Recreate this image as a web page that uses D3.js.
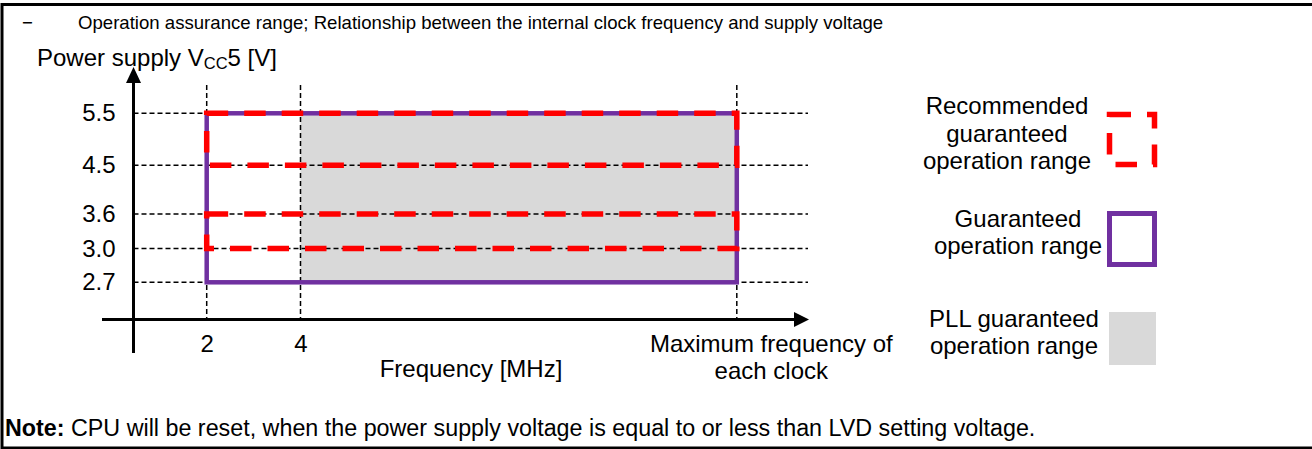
<!DOCTYPE html>
<html>
<head>
<meta charset="utf-8">
<script src="https://cdn.jsdelivr.net/npm/d3@7"></script>
<style>
  body { margin: 0; background: #fff; }
  svg { display: block; font-family: "Liberation Sans", Arial, sans-serif; }
</style>
</head>
<body>
<svg id="chart" width="1312" height="449"></svg>
<script>
// supply voltage ticks [V] (axis is not to scale in the original)
const voltTicks = [2.7, 3.0, 3.6, 4.5, 5.5];
// frequency ticks, "max" = maximum frequency of each clock
const freqKeys = ["origin", "2", "4", "max"];
const freqLabels = { "2": ["2"], "4": ["4"], "max": ["Maximum frequency of", "each clock"] };

// ranges
const guaranteedFreq = ["2", "max"];
const guaranteedVolt = [2.7, 5.5];
const pllFreq = ["4", "max"];
const pllVolt = [2.7, 5.5];
const recommendedLow = [4.5, 3.0];
const recommendedHigh = [5.5, 3.6];

const legendLabels = [
  ["Recommended", "guaranteed", "operation range"],
  ["Guaranteed", "operation range"],
  ["PLL guaranteed", "operation range"]
];

const titleText = "Operation assurance range; Relationship between the internal clock frequency and supply voltage";
const noteText = " CPU will be reset, when the power supply voltage is equal to or less than LVD setting voltage.";

const RED = "#ff0000", PURPLE = "#7030a0", GREY = "#d9d9d9";
const redDash = "21.5,16";
const FS = 24;

var svg = d3.select("#chart");

// piecewise scales, schematic spacing like the original drawing
var yScale = d3.scaleLinear().domain(voltTicks).range([282.3, 248.6, 214, 165.3, 113.3]);
var xScale = d3.scaleOrdinal().domain(freqKeys).range([133.5, 206.7, 300.5, 736.8]);

var ox = xScale("origin"), oy = 319.5;

// outer frame (right side runs off the picture)
svg.append("rect")
  .attr("x", 2).attr("y", 4.5).attr("width", 1400).attr("height", 443.5)
  .attr("fill", "none").attr("stroke", "#000").attr("stroke-width", 3);

// title
svg.append("text").attr("x", 22).attr("y", 29).attr("font-size", 18.6).text("\u2212");
svg.append("text").attr("x", 78).attr("y", 29).attr("font-size", 18.6).text(titleText);

// y title
var yt = svg.append("text").attr("x", 37).attr("y", 66).attr("font-size", FS);
yt.append("tspan").text("Power supply V");
yt.append("tspan").attr("font-size", 16.5).attr("dy", 3).text("CC");
yt.append("tspan").attr("dy", -3).text("5 [V]");

// PLL area
svg.append("rect")
  .attr("x", xScale(pllFreq[0])).attr("y", yScale(pllVolt[1]))
  .attr("width", xScale(pllFreq[1]) - xScale(pllFreq[0]))
  .attr("height", yScale(pllVolt[0]) - yScale(pllVolt[1]))
  .attr("fill", GREY);

// grid lines
var grid = svg.append("g").attr("stroke", "#000").attr("stroke-width", 1.5).attr("stroke-dasharray", "5,3");
grid.selectAll("line.h").data(voltTicks).join("line").attr("class", "h")
  .attr("x1", ox).attr("x2", 808)
  .attr("y1", d => yScale(d)).attr("y2", d => yScale(d));
grid.selectAll("line.v").data(freqKeys.slice(1)).join("line").attr("class", "v")
  .attr("x1", d => xScale(d)).attr("x2", d => xScale(d))
  .attr("y1", 85).attr("y2", oy);

// guaranteed range
svg.append("rect")
  .attr("x", xScale(guaranteedFreq[0])).attr("y", yScale(guaranteedVolt[1]))
  .attr("width", xScale(guaranteedFreq[1]) - xScale(guaranteedFreq[0]))
  .attr("height", yScale(guaranteedVolt[0]) - yScale(guaranteedVolt[1]))
  .attr("fill", "none").attr("stroke", PURPLE).attr("stroke-width", 4.5);

// recommended ranges
svg.selectAll("rect.rec").data(recommendedLow).join("rect").attr("class", "rec")
  .attr("x", xScale(guaranteedFreq[0]))
  .attr("y", (d, i) => yScale(recommendedHigh[i]))
  .attr("width", xScale(guaranteedFreq[1]) - xScale(guaranteedFreq[0]))
  .attr("height", (d, i) => yScale(d) - yScale(recommendedHigh[i]))
  .attr("fill", "none").attr("stroke", RED).attr("stroke-width", 5.5)
  .attr("stroke-dasharray", redDash);

// axes lines with arrows
svg.append("line").attr("x1", ox).attr("x2", ox).attr("y1", 80).attr("y2", 353)
  .attr("stroke", "#000").attr("stroke-width", 3);
svg.append("line").attr("x1", 102).attr("x2", 796).attr("y1", oy).attr("y2", oy)
  .attr("stroke", "#000").attr("stroke-width", 3);
svg.append("path").attr("d", `M${ox},67 L${ox - 7.5},83 L${ox + 7.5},83 Z`).attr("fill", "#000");
svg.append("path").attr("d", `M809,${oy} L794,${oy - 7.5} L794,${oy + 7.5} Z`).attr("fill", "#000");

// y tick labels
var yAxis = svg.append("g").attr("transform", `translate(${ox},0)`)
  .call(d3.axisLeft(yScale).tickValues(voltTicks).tickFormat(d3.format(".1f")).tickSize(0).tickPadding(18));
yAxis.select(".domain").remove();
yAxis.attr("font-size", FS).attr("font-family", null);
yAxis.selectAll("text").attr("fill", "#000");

// x tick labels
var xAxis = svg.append("g").attr("transform", `translate(0,${oy})`)
  .call(d3.axisBottom(xScale).tickValues(freqKeys.slice(1)).tickSize(0).tickPadding(15).tickFormat(""));
xAxis.select(".domain").remove();
xAxis.attr("font-size", FS).attr("font-family", null);
xAxis.selectAll(".tick text").each(function(d) {
  var t = d3.select(this).attr("fill", "#000").attr("dy", null).attr("y", 32);
  freqLabels[d].forEach((s, i) => {
    t.append("tspan").attr("x", d == "max" ? 34 : 0).attr("dy", i ? 27 : 0).text(s);
  });
});

svg.append("text").attr("x", 471).attr("y", 377).attr("font-size", FS)
  .attr("text-anchor", "middle").text("Frequency [MHz]");

// legend
var legendX = [1007, 1018, 1014];
var legendY = [114, 226.5, 326.5];
legendLabels.forEach((lines, i) => {
  var t = svg.append("text").attr("font-size", FS).attr("text-anchor", "middle");
  lines.forEach((s, j) => {
    t.append("tspan").attr("x", legendX[i]).attr("y", legendY[i] + j * 27.5).text(s);
  });
});
svg.append("rect").attr("x", 1109.5).attr("y", 114.5).attr("width", 45).attr("height", 50)
  .attr("fill", "none").attr("stroke", RED).attr("stroke-width", 5.5).attr("stroke-dasharray", redDash);
svg.append("rect").attr("x", 1109.5).attr("y", 213.5).attr("width", 45).attr("height", 51)
  .attr("fill", "none").attr("stroke", PURPLE).attr("stroke-width", 5);
svg.append("rect").attr("x", 1109).attr("y", 312).attr("width", 47).attr("height", 53).attr("fill", GREY);

// note
var note = svg.append("text").attr("x", 5).attr("y", 436).attr("font-size", 23.3);
note.append("tspan").attr("font-weight", "bold").text("Note:");
note.append("tspan").text(noteText);
</script>
</body>
</html>
